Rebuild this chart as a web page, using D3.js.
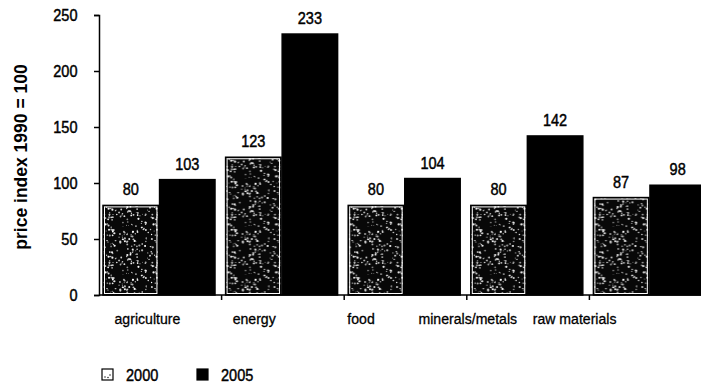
<!DOCTYPE html>
<html>
<head>
<meta charset="utf-8">
<script src="https://cdn.jsdelivr.net/npm/d3@7"></script>
<style>
  html, body { margin: 0; padding: 0; background: #fff; }
  svg { display: block; }
  text { font-family: "Liberation Sans", Arial, sans-serif; fill: #000; }
  text.heavy { stroke: #000; stroke-width: 0.45px; }
</style>
</head>
<body>
<svg id="chart" width="701" height="390"></svg>
<script>
// Commodity price indices (1990 = 100)
const categories = ["agriculture", "energy", "food", "minerals/metals", "raw materials"];
const seriesNames = ["2000", "2005"];
const values2000 = [80, 123, 80, 80, 87];
const values2005 = [103, 233, 104, 142, 98];
const yTicks = [0, 50, 100, 150, 200, 250];
const yTitle = "price index 1990 = 100";

const rows = categories.map((c, i) => ({ category: c, "2000": values2000[i], "2005": values2005[i] }));

const svg = d3.select("#chart");

const y = d3.scaleLinear().domain([0, 250]).range([295, 15]);
const x0 = d3.scaleBand().domain(categories).range([99, 712]).paddingInner(0).paddingOuter(0);
const x1 = d3.scaleBand().domain(seriesNames).range([4, 116]).paddingInner(0.02);
const xLabel = d3.scaleBand().domain(categories).range([94, 628]);

// Narrow lettering: draw text at (x, y) compressed horizontally by sx
function narrowText(sel, x, yPos, sx) {
  return sel.attr("transform", d => `translate(${x(d)},${yPos(d)}) scale(${sx},1)`);
}

// Stippled texture for the 2000 series: dark ground with scattered light specks
const defs = svg.append("defs");
const pat = defs.append("pattern")
  .attr("id", "stipple").attr("patternUnits", "userSpaceOnUse")
  .attr("width", 48).attr("height", 48);
pat.append("rect").attr("width", 48).attr("height", 48).attr("fill", "#080808");
let seed = 12345;
function lcg() { seed = (seed * 1103515245 + 12345) % 2147483648; return seed / 2147483648; }
const specks = d3.range(170).map(() => ({ x: lcg() * 48, y: lcg() * 48, r: 0.4 + lcg() * 0.75, o: 0.5 + lcg() * 0.5 }));
pat.selectAll("circle").data(specks).join("circle")
  .attr("cx", d => d.x).attr("cy", d => d.y).attr("r", d => d.r)
  .attr("fill", "#fff").attr("fill-opacity", d => d.o);

// Bars
const groups = svg.append("g").selectAll("g").data(rows).join("g")
  .attr("transform", d => `translate(${x0(d.category)},0)`);

const bars = groups.selectAll("g.bar")
  .data(d => seriesNames.map(s => ({ series: s, value: d[s] })))
  .join("g").attr("class", "bar");

bars.append("rect")
  .attr("x", d => x1(d.series))
  .attr("y", d => y(d.value))
  .attr("width", x1.bandwidth())
  .attr("height", d => y(0) - y(d.value))
  .attr("fill", d => d.series === "2000" ? "url(#stipple)" : "#000")
  .attr("stroke", "#000").attr("stroke-width", 1.5);

// Thin light inner frame on the stippled bars
bars.filter(d => d.series === "2000").append("rect")
  .attr("x", d => x1(d.series) + 1.5)
  .attr("y", d => y(d.value) + 1.5)
  .attr("width", x1.bandwidth() - 3)
  .attr("height", d => y(0) - y(d.value) - 3)
  .attr("fill", "none").attr("stroke", "#fff").attr("stroke-width", 1);

// Value labels
narrowText(bars.append("text").attr("class", "heavy"),
    d => x1(d.series) + x1.bandwidth() / 2,
    d => y(d.value) - 10, 0.88)
  .attr("text-anchor", "middle")
  .attr("font-size", 16.5)
  .text(d => d.value);

// Y axis
const yAxis = svg.append("g").attr("transform", "translate(99,0)")
  .call(d3.axisLeft(y).tickValues(yTicks).tickSize(5).tickPadding(19.5));
yAxis.select(".domain").attr("stroke", "#000").attr("stroke-width", 1.5);
yAxis.selectAll(".tick line").attr("stroke", "#000").attr("stroke-width", 1.5);
yAxis.selectAll(".tick text")
  .attr("class", "heavy")
  .attr("font-size", 16.5).attr("font-family", null).attr("fill", "#000")
  .attr("transform", "scale(0.88,1)");

// X axis baseline with boundary ticks
const xAxis = svg.append("g").attr("transform", `translate(0,${y(0)})`);
xAxis.append("line").attr("x1", 99).attr("x2", 712).attr("stroke", "#000").attr("stroke-width", 1.5);
xAxis.selectAll("line.tick").data(categories.slice(1)).join("line").attr("class", "tick")
  .attr("x1", d => x0(d)).attr("x2", d => x0(d)).attr("y1", 0).attr("y2", 5)
  .attr("stroke", "#000").attr("stroke-width", 1.5);

narrowText(svg.append("g").selectAll("text").data(categories).join("text").attr("class", "heavy"),
    d => xLabel(d) + xLabel.bandwidth() / 2, () => 324, 0.94)
  .attr("text-anchor", "middle")
  .attr("font-size", 15)
  .style("stroke-width", "0.3px")
  .text(d => d);

// Y axis title
svg.append("text")
  .attr("transform", "translate(27,157) rotate(-90)")
  .attr("text-anchor", "middle")
  .attr("font-size", 17.5).attr("font-weight", "bold")
  .text(yTitle);

// Legend
const legend = svg.append("g").attr("transform", "translate(102,369)");
const items = legend.selectAll("g").data(seriesNames).join("g")
  .attr("transform", (d, i) => `translate(${i * 95},0)`);
items.append("rect")
  .attr("width", 11).attr("height", 11)
  .attr("fill", d => d === "2000" ? "#fff" : "#000")
  .attr("stroke", "#000").attr("stroke-width", 1.2);
items.filter(d => d === "2000").selectAll("circle").data([[3, 8], [6, 8.5], [8, 6]]).join("circle")
  .attr("cx", p => p[0]).attr("cy", p => p[1]).attr("r", 0.7).attr("fill", "#000");
narrowText(items.append("text").attr("class", "heavy"), () => 24, () => 11.5, 0.88)
  .attr("font-size", 16.5)
  .text(d => d);
</script>
</body>
</html>
